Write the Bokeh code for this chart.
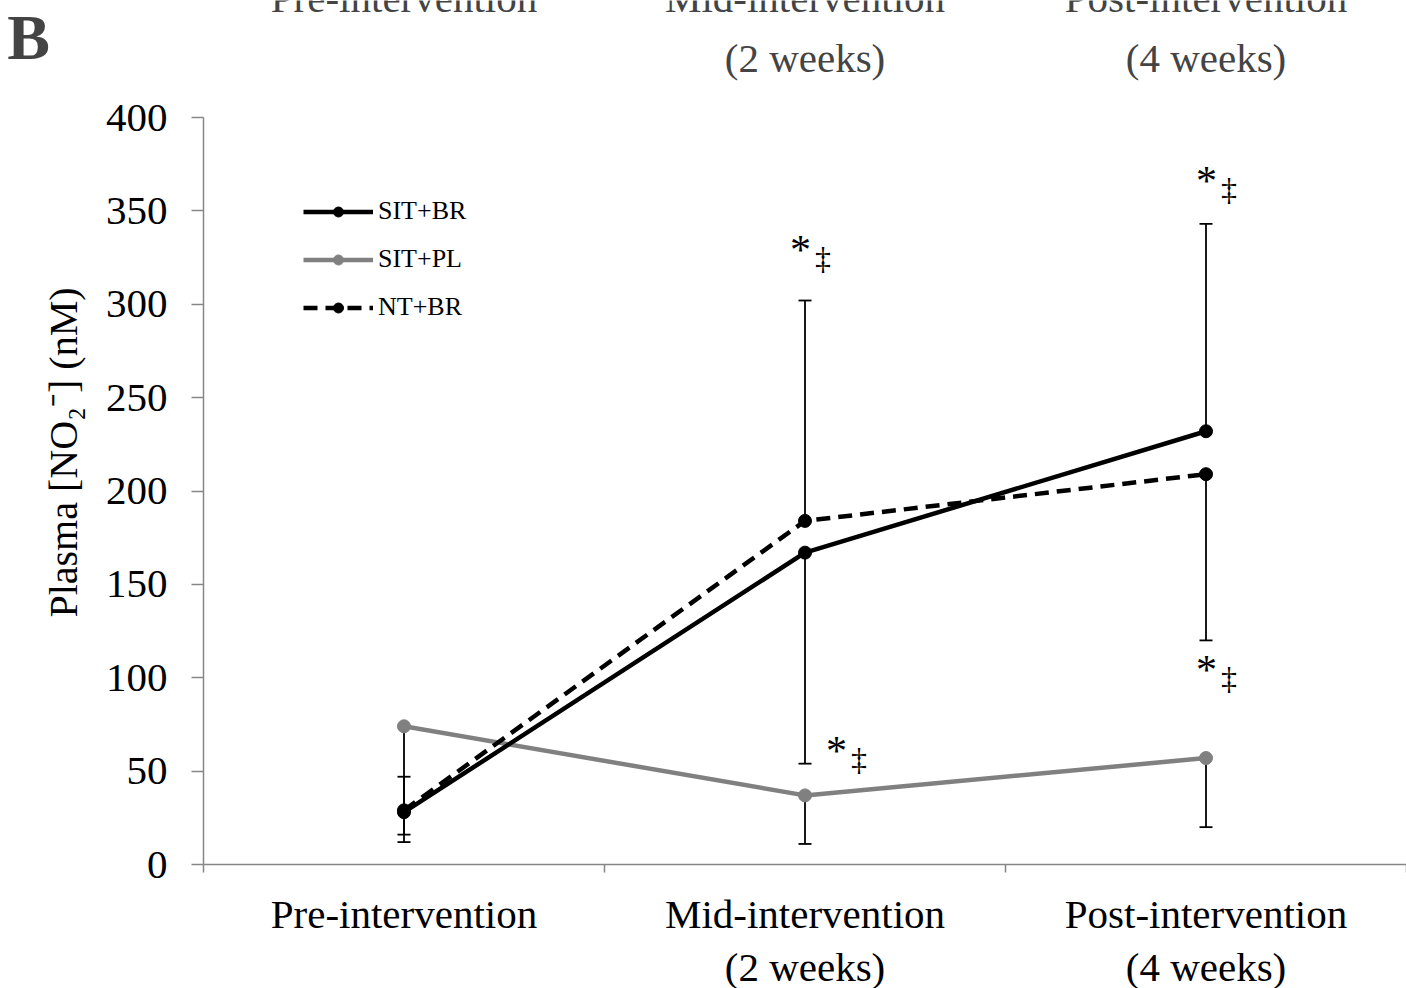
import math
from bokeh.plotting import figure
from bokeh.models import Range1d, FixedTicker, Legend, LegendItem, Label
from bokeh.core.properties import value
from bokeh.embed import file_html
from bokeh.resources import INLINE

# Plasma nitrite over the intervention, mean with one-sided SD bars
phases = ["Pre-intervention", "Mid-intervention\n(2 weeks)", "Post-intervention\n(4 weeks)"]
y_ticks = [0, 50, 100, 150, 200, 250, 300, 350, 400]

sit_br = [28, 167, 232]
sit_br_sd = [19, 113, 111]
sit_br_dir = [1, -1, 1]

sit_pl = [74, 37, 57]
sit_pl_sd = [62, 26, 37]
sit_pl_dir = [-1, -1, -1]

nt_br = [29, 184, 209]
nt_br_sd = [13, 118, 89]
nt_br_dir = [-1, 1, -1]

# significance marks: phase index, height (nM), horizontal shift (px)
sig_phase = [1, 2, 2, 1]
sig_y = [329, 366, 104, 61]
sig_dx = [-15, -10, -10, 21]

FONT = "Liberation Serif"
AXIS_GREY = "#868686"
LINE_GREY = "#808080"

W, H = 1406, 988
# pixel geometry of the axes box inside the canvas
AX_LEFT, AX_RIGHT, AX_TOP, AX_BOTTOM = 203, 1406, 117, 864
Y_MAX = 400

xs = [i + 0.5 for i in range(len(phases))]
n = len(phases)

x_per_px = n / (AX_RIGHT - AX_LEFT)
y_per_px = Y_MAX / (AX_BOTTOM - AX_TOP)
x_range = Range1d(-AX_LEFT * x_per_px, n + (W - AX_RIGHT) * x_per_px)
y_range = Range1d(-(H - AX_BOTTOM) * y_per_px, Y_MAX + AX_TOP * y_per_px)

p = figure(width=W, height=H, x_range=x_range, y_range=y_range,
           output_backend="svg", toolbar_location=None,
           min_border_left=0, min_border_right=0, min_border_top=0, min_border_bottom=0)
p.outline_line_color = None
p.grid.visible = False

# x axis: labels centred on each phase, ticks on the boundaries
xa = p.xaxis[0]
xa.fixed_location = 0
xa.bounds = (0, n)
xa.ticker = FixedTicker(ticks=xs, minor_ticks=list(range(n + 1)))
xa.major_label_overrides = {x: lab for x, lab in zip(xs, phases)}
xa.major_tick_out = 0
xa.major_tick_in = 0
xa.minor_tick_out = 8
xa.minor_tick_in = 0
xa.minor_tick_line_color = AXIS_GREY
xa.minor_tick_line_width = 1.5
xa.axis_line_color = AXIS_GREY
xa.axis_line_width = 1.5
xa.major_label_text_font = FONT
xa.major_label_text_font_size = "41px"
xa.major_label_text_line_height = 1.17
xa.major_label_text_color = "black"
xa.major_label_standoff = 18

ya = p.yaxis[0]
ya.fixed_location = 0
ya.bounds = (0, Y_MAX)
ya.ticker = FixedTicker(ticks=y_ticks, minor_ticks=[])
ya.major_tick_out = 12
ya.major_tick_in = 0
ya.major_tick_line_color = AXIS_GREY
ya.major_tick_line_width = 1.5
ya.axis_line_color = AXIS_GREY
ya.axis_line_width = 1.5
ya.major_label_text_font = FONT
ya.major_label_text_font_size = "41px"
ya.major_label_text_color = "black"
ya.major_label_standoff = 24


def error_bars(means, sds, dirs):
    ends = [m + d * s for m, s, d in zip(means, sds, dirs)]
    p.segment(x0=xs, y0=means, x1=xs, y1=ends, line_color="black", line_width=1.8)
    p.scatter(x=xs, y=ends, marker="dash", size=13, line_color="black", line_width=1.8)


error_bars(sit_pl, sit_pl_sd, sit_pl_dir)
error_bars(nt_br, nt_br_sd, nt_br_dir)
error_bars(sit_br, sit_br_sd, sit_br_dir)

pl_line = p.line(xs, sit_pl, line_color=LINE_GREY, line_width=4.5)
pl_dot = p.scatter(xs, sit_pl, size=13, fill_color=LINE_GREY, line_color=LINE_GREY)

nt_line = p.line(xs, nt_br, line_color="black", line_width=4.5, line_dash="14 8")
nt_dot = p.scatter(xs, nt_br, size=13, fill_color="black", line_color="black")

br_line = p.line(xs, sit_br, line_color="black", line_width=4.5)
br_dot = p.scatter(xs, sit_br, size=13, fill_color="black", line_color="black")

# significance symbols
sig_x = [xs[i] for i in sig_phase]
p.text(x=sig_x, y=sig_y, text=["*"] * len(sig_x), x_offset=sig_dx,
       text_font=value(FONT), text_font_size="42px", text_align="left",
       text_baseline="middle", text_color="black")
p.text(x=sig_x, y=sig_y, text=["\u2021"] * len(sig_x), x_offset=[d + 25 for d in sig_dx],
       y_offset=8, text_font=value(FONT), text_font_size="32px", text_align="left",
       text_baseline="middle", text_color="black")

legend = Legend(items=[
    LegendItem(label="SIT+BR", renderers=[br_line, br_dot]),
    LegendItem(label="SIT+PL", renderers=[pl_line, pl_dot]),
    LegendItem(label="NT+BR", renderers=[nt_line, nt_dot]),
], location=(303, H - 322))
legend.glyph_width = 70
legend.glyph_height = 25
legend.label_height = 25
legend.spacing = 18
legend.padding = 0
legend.margin = 0
legend.label_standoff = 5
legend.border_line_color = None
legend.background_fill_alpha = 0
legend.label_text_font = FONT
legend.label_text_font_size = "26px"
legend.label_text_color = "black"
p.add_layout(legend)

# y-axis title
p.add_layout(Label(x=63, y=H - 452, x_units="screen", y_units="screen",
                   text="Plasma [NO\u2082\u207b] (nM)", angle=math.pi / 2,
                   text_font=FONT, text_font_size="40px", text_align="center",
                   text_baseline="middle", text_color="black"))

# panel letter and phase header above the plot
p.add_layout(Label(x=28, y=H - 37, x_units="screen", y_units="screen", text="B",
                   text_font=FONT, text_font_size="64px", text_font_style="bold",
                   text_align="center", text_baseline="middle"))
header_top = Y_MAX + (AX_TOP + 3) * y_per_px
header_low = Y_MAX + (AX_TOP - 57) * y_per_px
for x, lab in zip(xs, phases):
    lines = lab.split("\n")
    p.add_layout(Label(x=x, y=header_top, text=lines[0], text_font=FONT, text_font_size="41px",
                       text_align="center", text_baseline="middle"))
    if len(lines) > 1:
        p.add_layout(Label(x=x, y=header_low, text=lines[1], text_font=FONT, text_font_size="41px",
                           text_align="center", text_baseline="middle"))

open("out.html", "w").write(file_html(p, INLINE))
